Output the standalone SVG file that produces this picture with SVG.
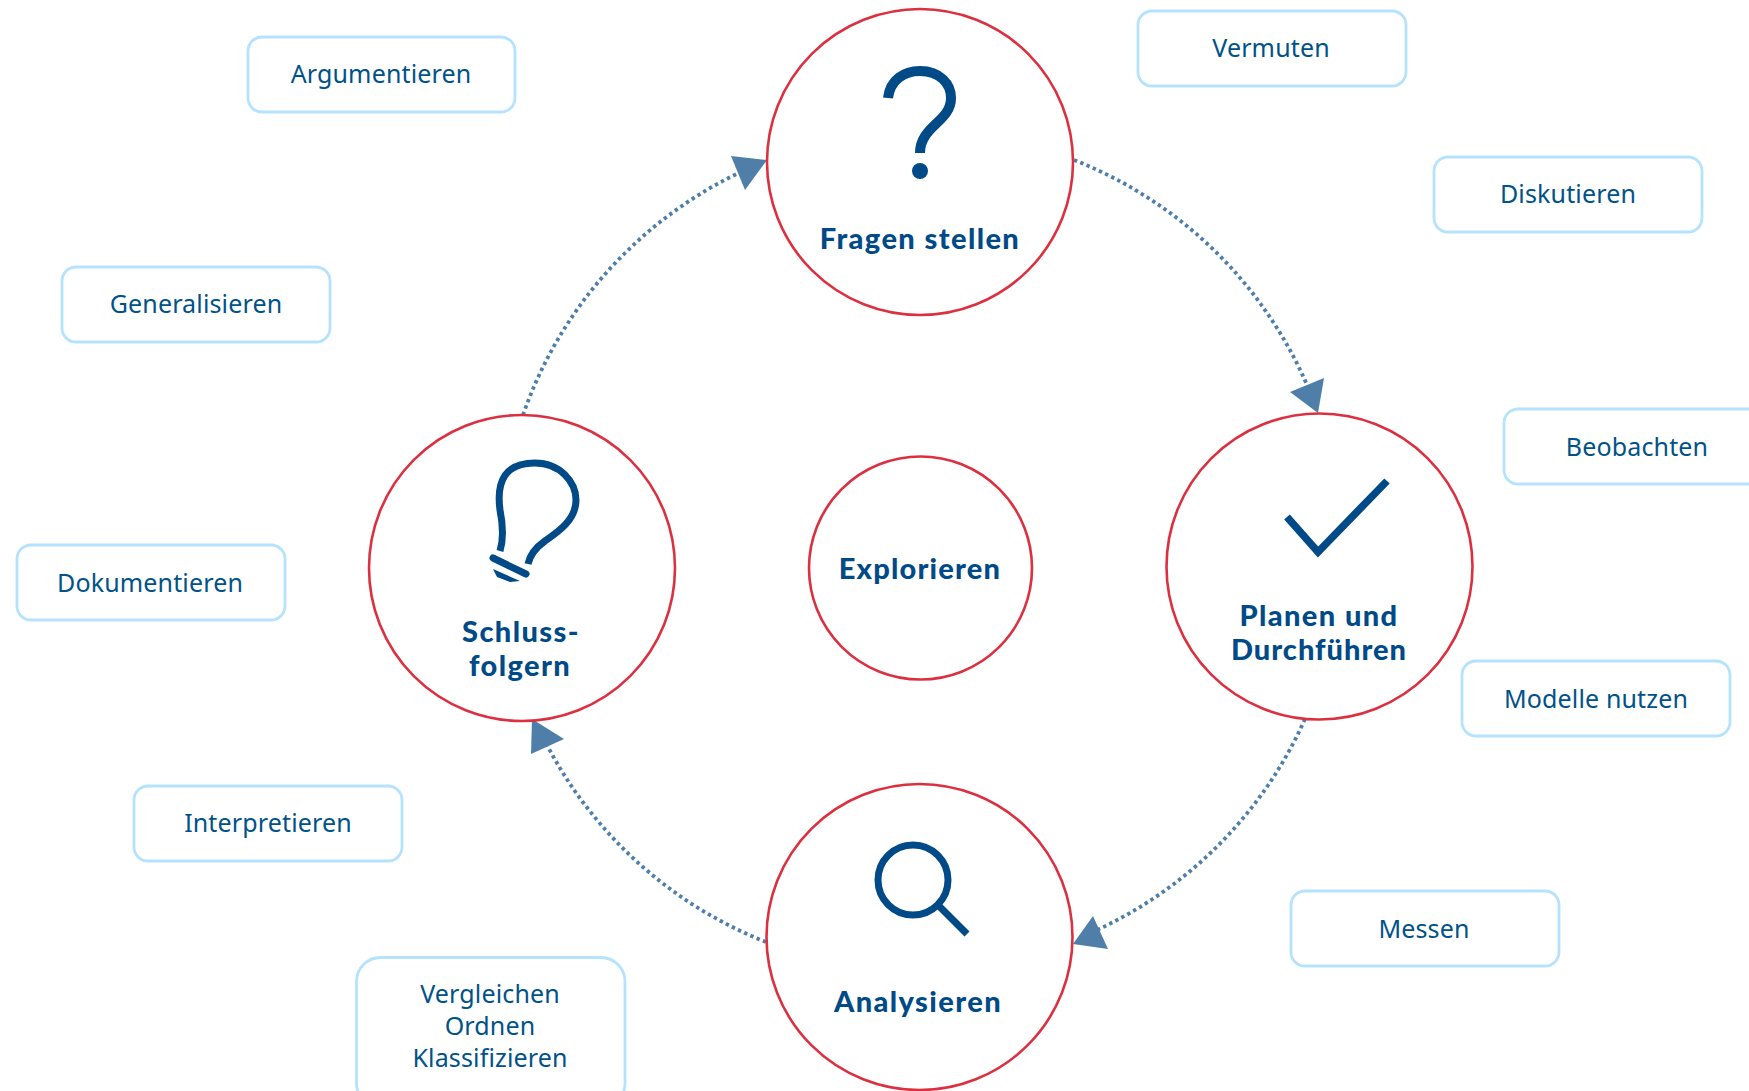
<svg xmlns="http://www.w3.org/2000/svg" width="1749" height="1091" viewBox="0 0 1749 1091">
<style>
.c{fill:#fff;stroke:#dc3040;stroke-width:2.6}
.b{fill:#fff;stroke:#b5e2fd;stroke-width:2.8}
.t{font-family:"Lato","Liberation Sans",sans-serif;font-weight:900;font-size:29px;fill:#004a87;text-anchor:middle;letter-spacing:1.4px}
.l{font-family:"Noto Sans","Liberation Sans",sans-serif;font-size:25px;fill:#005288;text-anchor:middle;letter-spacing:.15px}
.i{fill:none;stroke:#004a87;stroke-width:7}
.a{fill:none;stroke:#4f7fa9;stroke-width:3.8;stroke-dasharray:3.4 3.4}
.h{fill:#4f7fa9}
</style>
<rect width="1749" height="1091" fill="#fff"/>
<g id="connectors">
<path class="a" d="M1074 160A421 421 0 0 1 1307 385"/>
<polygon class="h" points="1318,413 1324,378 1290,392"/>
<path class="a" d="M1305 719A421 421 0 0 1 1097 930"/>
<polygon class="h" points="1073,944 1093,916 1108,949"/>
<path class="a" d="M766 942A421 421 0 0 1 547 745"/>
<polygon class="h" points="532,719 564,739 531,754"/>
<path class="a" d="M523 415A421 421 0 0 1 745 170"/>
<polygon class="h" points="767,160 731,156 745,190"/>
</g>
<g id="fragen"><circle class="c" cx="920" cy="162" r="153"/>
<path class="i" style="stroke-width:10" d="M888 98C890 80 904 71 920 71C940 71 951 84 951 98C951 122 920 126 920 153"/>
<circle cx="920" cy="171" r="8" fill="#004a87"/>
<text class="t" x="920" y="249">Fragen stellen</text></g>
<g id="planen"><circle class="c" cx="1319.500" cy="566.500" r="153"/>
<path class="i" style="stroke-width:7.500" d="M1287 517L1318 552L1387 481"/>
<text class="t" x="1319" y="626">Planen und</text><text class="t" x="1319" y="660" style="letter-spacing:1px">Durchführen</text></g>
<g id="explorieren"><circle class="c" cx="920.500" cy="568" r="111.500"/>
<text class="t" x="920" y="579" style="letter-spacing:1.2px">Explorieren</text></g>
<g id="schluss"><circle class="c" cx="522" cy="568" r="153"/>
<path class="i" d="M500 551C504 538 503 525 500 510C496 480 506 463 535 463C560 463 576 482 576 500C576 520 558 532 545 541C535 548 530 555 528 564"/>
<path class="i" style="stroke-linecap:round" d="M493 558L526 574"/>
<path fill="#004a87" d="M493 569L520 581L510 582L497 577Z"/>
<text class="t" x="521" y="642">Schluss-</text><text class="t" x="520" y="676">folgern</text></g>
<g id="analysieren"><circle class="c" cx="919.500" cy="937" r="153"/>
<circle class="i" cx="913" cy="880" r="35"/>
<path class="i" d="M939 906L967 934"/>
<text class="t" x="918" y="1012">Analysieren</text></g>
<g id="n1"><rect class="b" x="248" y="37" width="267" height="75" rx="14"/><text class="l" x="381" y="83">Argumentieren</text></g>
<g id="n2"><rect class="b" x="1138" y="11" width="268" height="75" rx="14"/><text class="l" x="1271" y="57">Vermuten</text></g>
<g id="n3"><rect class="b" x="1434" y="157" width="268" height="75" rx="14"/><text class="l" x="1568" y="203">Diskutieren</text></g>
<g id="n4"><rect class="b" x="62" y="267" width="268" height="75" rx="14"/><text class="l" x="196" y="313">Generalisieren</text></g>
<g id="n5"><rect class="b" x="1504" y="409" width="267" height="75" rx="14"/><text class="l" x="1637" y="456">Beobachten</text></g>
<g id="n6"><rect class="b" x="17" y="545" width="268" height="75" rx="14"/><text class="l" x="150" y="592">Dokumentieren</text></g>
<g id="n7"><rect class="b" x="1462" y="661" width="268" height="75" rx="14"/><text class="l" x="1596" y="708">Modelle nutzen</text></g>
<g id="n8"><rect class="b" x="134" y="786" width="268" height="75" rx="14"/><text class="l" x="268" y="832">Interpretieren</text></g>
<g id="n9"><rect class="b" x="1291" y="891" width="268" height="75" rx="14"/><text class="l" x="1424" y="938">Messen</text></g>
<g id="n10"><rect class="b" x="356.500" y="957.500" width="268.500" height="150" rx="24"/><text class="l" x="490" y="1003">Vergleichen</text><text class="l" x="490" y="1035">Ordnen</text><text class="l" x="490" y="1067">Klassifizieren</text></g>
</svg>
